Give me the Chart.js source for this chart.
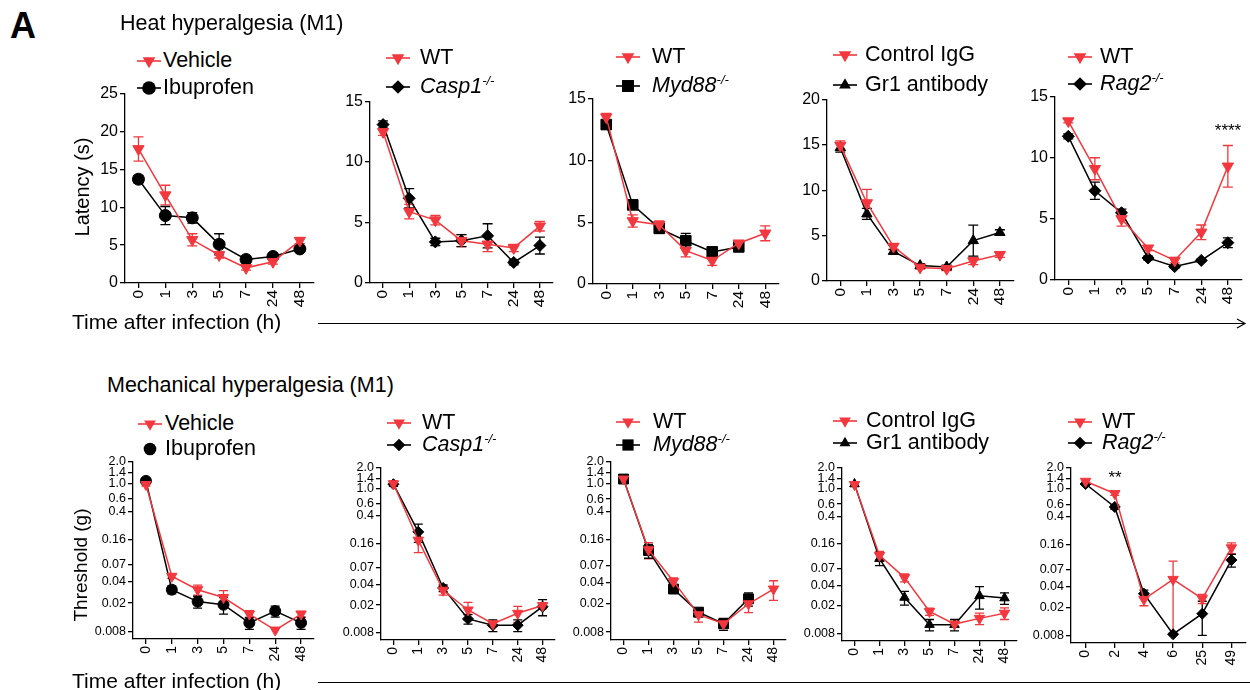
<!DOCTYPE html>
<html>
<head>
<meta charset="utf-8">
<script src="https://cdn.jsdelivr.net/npm/chart.js@4.4.1/dist/chart.umd.min.js"></script>
<style>
  body { margin: 0; background: #fff; }
  #fig { position: relative; width: 1250px; height: 690px; overflow: hidden; background: #fff;
         font-family: 'Liberation Sans', Arial, sans-serif; color: #000; }
  .t { position: absolute; white-space: nowrap; line-height: 1; }
  .lt { position: absolute; white-space: nowrap; line-height: 1; font-size: 21.5px; }
  .lt sup { font-size: 13px; vertical-align: 8px; line-height: 0; }
  canvas, svg { position: absolute; }
</style>
</head>
<body>
<div id="fig"></div>
<script>
const RED = '#f2383e';
const BLACK = '#000';

// x categories (hours after infection)
const timeLabels = ['0', '1', '3', '5', '7', '24', '48'];
const ragLabels = ['0', '2', '4', '6', '25', '49'];

// heat hyperalgesia: latency (s), mean and SEM
const heatVehicle = [17.7, 11.6, 5.7, 3.7, 2.0, 2.8, 5.6];
const heatVehicleErr = [1.6, 1.3, 0.8, 0.4, 0.3, 0.3, 0.4];
const heatIbuprofen = [13.7, 8.9, 8.6, 5.1, 3.1, 3.5, 4.5];
const heatIbuprofenErr = [0.5, 1.2, 0.7, 1.4, 0.3, 0.2, 0.4];
const heatWT1 = [12.5, 5.9, 5.2, 3.5, 3.2, 2.9, 4.7];
const heatWT1Err = [0.3, 0.6, 0.4, 0.5, 0.6, 0.3, 0.4];
const heatCasp1 = [13.1, 7.0, 3.4, 3.5, 3.9, 1.7, 3.1];
const heatCasp1Err = [0.3, 0.8, 0.3, 0.5, 1.0, 0.2, 0.7];
const heatWT2 = [13.5, 5.1, 4.8, 2.7, 1.9, 3.3, 4.1];
const heatWT2Err = [0.3, 0.5, 0.3, 0.5, 0.4, 0.2, 0.6];
const heatMyd88 = [12.9, 6.4, 4.5, 3.5, 2.6, 3.0, null];
const heatMyd88Err = [0.3, 0.3, 0.4, 0.6, 0.3, 0.3, null];
const heatIgG = [14.95, 8.6, 3.8, 1.5, 1.35, 2.2, 2.9];
const heatIgGErr = [0.5, 1.5, 0.3, 0.2, 0.2, 0.4, 0.3];
const heatGr1 = [14.7, 7.4, 3.25, 1.7, 1.55, 4.45, 5.35];
const heatGr1Err = [0.5, 0.6, 0.2, 0.2, 0.2, 1.7, 0.3];
const heatWT3 = [13.0, 9.1, 5.0, 2.6, 1.6, 3.9, 9.3];
const heatWT3Err = [0.15, 0.9, 0.6, 0.2, 0.2, 0.6, 1.7];
const heatRag2 = [11.75, 7.3, 5.5, 1.8, 1.1, 1.6, 3.05];
const heatRag2Err = [0.2, 0.7, 0.3, 0.15, 0.1, 0.1, 0.4];

// mechanical hyperalgesia: threshold (g), mean and SEM
const mechVehicle = [0.96, 0.048, 0.031, 0.024, 0.014, 0.0083, 0.014];
const mechVehicleErr = [0.05, 0.003, 0.005, 0.006, 0.0016, 0, 0.0012];
const mechIbuprofen = [1.08, 0.031, 0.021, 0.019, 0.0105, 0.0154, 0.0105];
const mechIbuprofenErr = [0.05, 0.004, 0.004, 0.005, 0.002, 0.0027, 0.002];
const mechWT1 = [1.18, 0.177, 0.033, 0.017, 0.0107, 0.0152, 0.0197];
const mechWT1Err = [0.1, 0.06, 0.005, 0.005, 0.001, 0.004, 0.002];
const mechCasp1 = [1.16, 0.234, 0.0356, 0.0126, 0.0102, 0.0102, 0.019];
const mechCasp1Err = [0.08, 0.07, 0.004, 0.002, 0.002, 0.002, 0.005];
const mechWT2 = [1.15, 0.116, 0.0415, 0.0141, 0.0105, 0.0201, 0.0324];
const mechWT2Err = [0.05, 0.03, 0.005, 0.003, 0.001, 0.005, 0.010];
const mechMyd88 = [1.15, 0.113, 0.0324, 0.0153, 0.0105, 0.0236, null];
const mechMyd88Err = [0.05, 0.025, 0.004, 0.002, 0.002, 0.005, null];
const mechIgG = [1.15, 0.108, 0.0515, 0.0166, 0.0109, 0.0132, 0.0157];
const mechIgGErr = [0.05, 0.015, 0.007, 0.002, 0.001, 0.0025, 0.003];
const mechGr1 = [1.17, 0.097, 0.0265, 0.0107, 0.0107, 0.028, 0.026];
const mechGr1Err = [0.05, 0.02, 0.006, 0.002, 0.002, 0.010, 0.005];
const mechWT3 = [1.29, 0.86, 0.0262, 0.0506, 0.0268, 0.1436];
const mechWT3Err = [0.05, 0.05, 0.005, 0.042, 0.004, 0.025];
const mechRag2 = [1.18, 0.553, 0.0316, 0.00828, 0.0163, 0.0957];
const mechRag2Err = [0.05, 0.04, 0.004, 0, 0.0083, 0.02];

// log axis ticks
const logTicks = [2.0, 1.4, 1.0, 0.6, 0.4, 0.16, 0.07, 0.04, 0.02, 0.008];
const logTickLabels = ['2.0', '1.4', '1.0', '0.6', '0.4', '0.16', '0.07', '0.04', '0.02', '0.008'];

const FONT = "'Liberation Sans', Arial, sans-serif";
const fig = document.getElementById('fig');

// error bars drawn under the markers
const errorBars = {
  id: 'errorBars',
  beforeDatasetsDraw(chart) {
    const { ctx } = chart;
    const y = chart.scales.y;
    chart.data.datasets.forEach((ds, i) => {
      const meta = chart.getDatasetMeta(i);
      meta.data.forEach((pt, j) => {
        const v = ds.data[j], e = ds.errors[j];
        if (v == null || !e) return;
        const top = y.getPixelForValue(v + e);
        const lo = v - e;
        const bot = lo > y.min ? y.getPixelForValue(lo) : y.bottom;
        const cap = ds.capW;
        ctx.save();
        ctx.strokeStyle = ds.borderColor;
        ctx.lineWidth = 1.3;
        ctx.beginPath();
        ctx.moveTo(pt.x, top); ctx.lineTo(pt.x, bot);
        ctx.moveTo(pt.x - cap, top); ctx.lineTo(pt.x + cap, top);
        if (lo > y.min) { ctx.moveTo(pt.x - cap, bot); ctx.lineTo(pt.x + cap, bot); }
        ctx.stroke();
        ctx.restore();
      });
    });
  }
};

const SHAPES = {
  tridown: { pointStyle: 'triangle', rot: 180 },
  triup: { pointStyle: 'triangle', rot: 0 },
  circle: { pointStyle: 'circle', rot: 0 },
  diamond: { pointStyle: 'rectRot', rot: 0 },
  square: { pointStyle: 'rect', rot: 0 }
};

function makePanel(o) {
  const yw = 46, xh = 34, pt = 10, pr = 6;
  const [cl, cr, ct, cb] = o.box;
  const cv = document.createElement('canvas');
  const left = cl - yw, top = ct - pt;
  cv.width = cr - left + pr;
  cv.height = cb - top + xh;
  cv.style.left = left + 'px';
  cv.style.top = top + 'px';
  fig.appendChild(cv);

  const tickFont = { family: FONT, size: o.log ? 12.5 : 16 };
  const yScale = o.log ? {
    type: 'logarithmic', min: 0.0062, max: 2.0,
    afterBuildTicks: s => { s.ticks = logTicks.map(v => ({ value: v })); },
    ticks: { autoSkip: false, padding: 2, color: BLACK, font: tickFont,
             callback: v => logTickLabels[logTicks.indexOf(v)] }
  } : {
    type: 'linear', min: 0, max: o.yMax,
    ticks: { stepSize: 5, autoSkip: false, padding: 2, color: BLACK, font: tickFont }
  };
  Object.assign(yScale, {
    grid: { drawOnChartArea: false, color: BLACK, tickLength: 5, lineWidth: 1.3 },
    border: { color: BLACK, width: 1.3 },
    afterFit: s => { s.width = yw; }
  });

  new Chart(cv, {
    type: 'line',
    data: {
      labels: o.labels,
      datasets: o.series.map(s => ({
        data: s.data,
        errors: s.err,
        capW: o.log ? 4.5 : 5,
        borderColor: s.color,
        backgroundColor: s.color,
        borderWidth: 1.5,
        pointStyle: SHAPES[s.shape].pointStyle,
        pointRotation: SHAPES[s.shape].rot,
        pointRadius: s.r,
        pointBorderWidth: 1,
        tension: 0,
        clip: false
      }))
    },
    options: {
      responsive: false,
      animation: false,
      events: [],
      layout: { padding: { top: pt, right: pr, left: 0, bottom: 0 } },
      plugins: { legend: { display: false }, tooltip: { enabled: false } },
      scales: {
        x: {
          offset: true,
          grid: { offset: false, drawOnChartArea: false, color: BLACK, tickLength: 5, lineWidth: 1.3 },
          border: { color: BLACK, width: 1.3 },
          ticks: { minRotation: 90, maxRotation: 90, autoSkip: false, padding: 2, color: BLACK,
                   font: { family: FONT, size: o.log ? 14 : 15.5 } },
          afterFit: s => { s.height = xh; }
        },
        y: yScale
      }
    },
    plugins: [errorBars]
  });

  // legend
  o.series.forEach((s, i) => {
    const y = o.leg.ys[i];
    const svg = document.createElementNS('http://www.w3.org/2000/svg', 'svg');
    svg.setAttribute('width', 28); svg.setAttribute('height', 20);
    svg.style.left = (o.leg.mx - 14) + 'px';
    svg.style.top = (y - 10) + 'px';
    let inner = s.noLegLine ? '' : `<line x1="2" y1="10" x2="26" y2="10" stroke="${s.color}" stroke-width="1.6"/>`;
    const r = s.r + 0.8;
    if (s.shape === 'tridown') inner += `<polygon points="14,${10 + r} ${14 - r * 0.866},${10 - r / 2} ${14 + r * 0.866},${10 - r / 2}" fill="${s.color}"/>`;
    if (s.shape === 'triup') inner += `<polygon points="14,${10 - r} ${14 - r * 0.866},${10 + r / 2} ${14 + r * 0.866},${10 + r / 2}" fill="${s.color}"/>`;
    if (s.shape === 'circle') inner += `<circle cx="14" cy="10" r="${r}" fill="${s.color}"/>`;
    if (s.shape === 'diamond') inner += `<polygon points="14,${10 - r} ${14 + r},10 14,${10 + r} ${14 - r},10" fill="${s.color}"/>`;
    if (s.shape === 'square') { const h = r * 0.72; inner += `<rect x="${14 - h}" y="${10 - h}" width="${2 * h}" height="${2 * h}" fill="${s.color}"/>`; }
    svg.innerHTML = inner;
    fig.appendChild(svg);
    const sp = document.createElement('div');
    sp.className = 'lt';
    sp.style.left = o.leg.tx + 'px';
    sp.style.top = (y - 11) + 'px';
    sp.innerHTML = s.name;
    fig.appendChild(sp);
  });
}

const wt = (data, err) => ({ name: 'WT', data, err, color: RED, shape: 'tridown', r: 6.5 });
const casp = '<i>Casp1<sup>-/-</sup></i>', myd = '<i>Myd88<sup>-/-</sup></i>', rag = '<i>Rag2<sup>-/-</sup></i>';

// top row: heat hyperalgesia
makePanel({ box: [125, 315, 92, 283], yMax: 25, labels: timeLabels, leg: { mx: 149, tx: 163, ys: [61, 88] },
  series: [{ name: 'Vehicle', data: heatVehicle, err: heatVehicleErr, color: RED, shape: 'tridown', r: 6.5 },
           { name: 'Ibuprofen', data: heatIbuprofen, err: heatIbuprofenErr, color: BLACK, shape: 'circle', r: 6 }] });
makePanel({ box: [370, 555, 100, 283], yMax: 15, labels: timeLabels, leg: { mx: 398, tx: 420, ys: [58, 87] },
  series: [wt(heatWT1, heatWT1Err),
           { name: casp, data: heatCasp1, err: heatCasp1Err, color: BLACK, shape: 'diamond', r: 6 }] });
makePanel({ box: [593, 781, 97, 284], yMax: 15, labels: timeLabels, leg: { mx: 628, tx: 652, ys: [57, 86] },
  series: [wt(heatWT2, heatWT2Err),
           { name: myd, data: heatMyd88, err: heatMyd88Err, color: BLACK, shape: 'square', r: 7.5 }] });
makePanel({ box: [827, 1015, 98, 281], yMax: 20, labels: timeLabels, leg: { mx: 845, tx: 865, ys: [55, 85] },
  series: [{ name: 'Control IgG', data: heatIgG, err: heatIgGErr, color: RED, shape: 'tridown', r: 6.5 },
           { name: 'Gr1 antibody', data: heatGr1, err: heatGr1Err, color: BLACK, shape: 'triup', r: 6 }] });
makePanel({ box: [1055, 1243, 95, 280], yMax: 15, labels: timeLabels, leg: { mx: 1080, tx: 1100, ys: [57, 84] },
  series: [wt(heatWT3, heatWT3Err),
           { name: rag, data: heatRag2, err: heatRag2Err, color: BLACK, shape: 'diamond', r: 6 }] });

// bottom row: mechanical hyperalgesia
const wtm = (data, err) => ({ name: 'WT', data, err, color: RED, shape: 'tridown', r: 6 });
makePanel({ box: [133, 315, 462, 639], log: true, labels: timeLabels, leg: { mx: 150, tx: 165, ys: [424, 449] },
  series: [{ name: 'Vehicle', data: mechVehicle, err: mechVehicleErr, color: RED, shape: 'tridown', r: 6 },
           { name: 'Ibuprofen', data: mechIbuprofen, err: mechIbuprofenErr, color: BLACK, shape: 'circle', r: 5.5, noLegLine: true }] });
makePanel({ box: [381, 556, 468, 640], log: true, labels: timeLabels, leg: { mx: 399, tx: 422, ys: [423, 445] },
  series: [wtm(mechWT1, mechWT1Err),
           { name: casp, data: mechCasp1, err: mechCasp1Err, color: BLACK, shape: 'diamond', r: 5.5 }] });
makePanel({ box: [611, 788, 462, 640], log: true, labels: timeLabels, leg: { mx: 628, tx: 653, ys: [422, 445] },
  series: [wtm(mechWT2, mechWT2Err),
           { name: myd, data: mechMyd88, err: mechMyd88Err, color: BLACK, shape: 'square', r: 7 }] });
makePanel({ box: [842, 1018, 468, 641], log: true, labels: timeLabels, leg: { mx: 845, tx: 866, ys: [421, 443] },
  series: [{ name: 'Control IgG', data: mechIgG, err: mechIgGErr, color: RED, shape: 'tridown', r: 6 },
           { name: 'Gr1 antibody', data: mechGr1, err: mechGr1Err, color: BLACK, shape: 'triup', r: 5.5 }] });
makePanel({ box: [1071, 1247, 468, 643], log: true, labels: ragLabels, leg: { mx: 1080, tx: 1102, ys: [422, 443] },
  series: [wtm(mechWT3, mechWT3Err),
           { name: rag, data: mechRag2, err: mechRag2Err, color: BLACK, shape: 'diamond', r: 5.5 }] });

// texts
function text(str, x, y, css) {
  const d = document.createElement('div');
  d.className = 't';
  d.style.cssText += `left:${x}px;top:${y}px;${css || ''}`;
  d.innerHTML = str;
  fig.appendChild(d);
  return d;
}
text('A', 10, 8, 'font-size:36px;font-weight:bold;');
text('Heat hyperalgesia (M1)', 120, 13, 'font-size:21.5px;');
text('Mechanical hyperalgesia (M1)', 107, 375, 'font-size:21.5px;');
text('Time after infection (h)', 72, 311, 'font-size:21px;');
text('Time after infection (h)', 72, 670, 'font-size:21px;');
text('Latency (s)', 82, 187, 'font-size:20px;transform:translate(-50%,-50%) rotate(-90deg);');
text('Threshold (g)', 80, 565, 'font-size:19px;transform:translate(-50%,-50%) rotate(-90deg);');
text('****', 1228, 122, 'font-size:17px;transform:translateX(-50%);');
text('**', 1115, 469, 'font-size:17px;transform:translateX(-50%);');

// time arrows
const arr = document.createElementNS('http://www.w3.org/2000/svg', 'svg');
arr.setAttribute('width', 1250); arr.setAttribute('height', 690);
arr.style.left = '0px'; arr.style.top = '0px';
arr.innerHTML =
  '<path d="M318,323.5 H1245 M1237,319 L1245,323.5 L1237,328" stroke="#000" stroke-width="1.2" fill="none"/>' +
  '<path d="M318,682.5 H1250" stroke="#000" stroke-width="1.2" fill="none"/>';
fig.appendChild(arr);
</script>
</body>
</html>
